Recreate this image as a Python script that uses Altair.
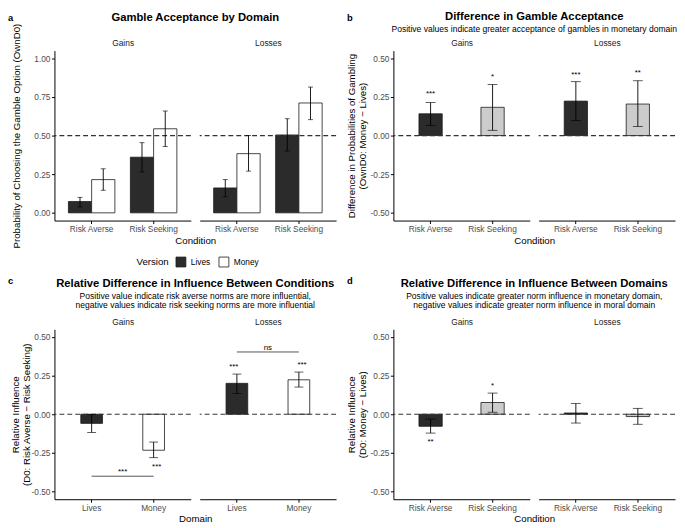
import altair as alt
import pandas as pd

FONT = "Liberation Sans"
W, H = 138, 172
GAP = 9
SPACER_W = 40
ROW_GAP = 110
DARK, LIGHT, WHITE, EDGE = "#2b2b2b", "#cccccc", "#ffffff", "#1a1a1a"
GREY_TXT = "#4d4d4d"

conditions = ["Risk Averse", "Risk Seeking"]
versions = ["Lives", "Money"]
P_TICKS = [0, 0.25, 0.5, 0.75, 1.0]
D_TICKS = [-0.5, -0.25, 0, 0.25, 0.5]

# ---- panel a: gamble acceptance by domain
a_facet = ["Gains"] * 4 + ["Losses"] * 4
a_cond = ["Risk Averse", "Risk Averse", "Risk Seeking", "Risk Seeking"] * 2
a_version = ["Lives", "Money"] * 4
a_prob = [0.073, 0.215, 0.360, 0.544, 0.161, 0.383, 0.504, 0.711]
a_lo = [0.038, 0.146, 0.264, 0.429, 0.103, 0.270, 0.400, 0.603]
a_hi = [0.100, 0.285, 0.454, 0.659, 0.215, 0.500, 0.609, 0.814]
a_ref = [0.5]

# ---- panel b: difference in gamble acceptance
b_facet = ["Gains", "Gains", "Losses", "Losses"]
b_cond = ["Risk Averse", "Risk Seeking"] * 2
b_diff = [0.141, 0.183, 0.223, 0.204]
b_lo = [0.065, 0.034, 0.097, 0.059]
b_hi = [0.214, 0.330, 0.349, 0.355]
b_sig = ["***", "*", "***", "**"]
b_sig_y = [0.279, 0.390, 0.405, 0.416]

# ---- panel c: relative difference between conditions
c_facet = ["Gains", "Gains", "Losses", "Losses"]
c_domain = ["Lives", "Money"] * 2
c_rel = [-0.059, -0.233, 0.200, 0.223]
c_lo = [-0.118, -0.281, 0.134, 0.176]
c_hi = [-0.002, -0.180, 0.260, 0.273]
c_sig = ["", "***", "***", "***"]
c_sig_y = [0.0, -0.326, 0.319, 0.330]
c_br_facet = ["Gains", "Losses"]
c_br_from = [1, 1]
c_br_to = [2, 2]
c_br_mid = [1.5, 1.5]
c_br_y = [-0.401, 0.403]
c_br_label = ["***", "ns"]
c_br_label_y = [-0.363, 0.431]

# ---- panel d: relative difference between domains
d_facet = ["Gains", "Gains", "Losses", "Losses"]
d_cond = ["Risk Averse", "Risk Seeking"] * 2
d_rel = [-0.078, 0.076, 0.008, -0.015]
d_lo = [-0.122, 0.013, -0.057, -0.065]
d_hi = [-0.031, 0.137, 0.069, 0.038]
d_sig = ["**", "*", "", ""]
d_sig_y = [-0.164, 0.193, 0.0, 0.0]
zero_ref = [0.0]

a_df = pd.DataFrame(dict(facet=a_facet, cond=a_cond, version=a_version, val=a_prob, lo=a_lo, hi=a_hi))
b_df = pd.DataFrame(dict(facet=b_facet, cond=b_cond, val=b_diff, lo=b_lo, hi=b_hi, sig=b_sig, sig_y=b_sig_y))
c_df = pd.DataFrame(dict(facet=c_facet, cond=c_domain, val=c_rel, lo=c_lo, hi=c_hi, sig=c_sig, sig_y=c_sig_y))
c_br = pd.DataFrame(dict(facet=c_br_facet, x1=c_br_from, x2=c_br_to, xm=c_br_mid, y=c_br_y,
                         lab=c_br_label, lab_y=c_br_label_y))
d_df = pd.DataFrame(dict(facet=d_facet, cond=d_cond, val=d_rel, lo=d_lo, hi=d_hi, sig=d_sig, sig_y=d_sig_y))

LABEL_EXPR = "replace(format(datum.value, '.2f'), '\u2212', '-')"


def xs(domain, pi, po):
    return alt.Scale(domain=domain, paddingInner=pi, paddingOuter=po)


def ys(dom):
    return alt.Scale(domain=dom, nice=False, zero=False)


def bottom_axis(title):
    if title:
        return alt.Axis(labelAngle=0, title=title, titleX=W + GAP / 2, titleY=20,
                        titleBaseline="middle", titleAlign="center")
    return alt.Axis(labelAngle=0, title=None)


def top_axis(label):
    return alt.Axis(orient="top", title=label, labels=False, ticks=False, domain=False,
                    titlePadding=3, titleFontSize=8.5, titleColor="#1a1a1a")


def left_axis(ticks, title, tx):
    return alt.Axis(values=ticks, labelExpr=LABEL_EXPR, title=title, titleX=tx, titleY=H / 2,
                    titleAngle=270, titleAlign="center", titleBaseline="middle", titleLineHeight=11)


def subplot(df, facet, xdom, pi, po, ydom, yticks, refv, fill_dom, fill_rng, left,
            xtitle=None, ytitle=None, ytx=-39.5, offset_field=None, cap=8, legend=None,
            title=None, stars=False, brackets=None):
    d = df[df.facet == facet]
    base = alt.Chart(d)
    ysc = ys(ydom)

    def X(axis):
        return alt.X("cond:N", scale=xs(xdom, pi, po), axis=axis)

    extra = {}
    if offset_field:
        extra["xOffset"] = alt.XOffset(f"{offset_field}:N", scale=alt.Scale(domain=fill_dom))
    fill_field = offset_field or "cond"

    bars = base.mark_bar(stroke=EDGE, strokeWidth=0.8).encode(
        x=X(bottom_axis(xtitle if left else None)),
        y=alt.Y("val:Q", scale=ysc, axis=left_axis(yticks, ytitle, ytx) if left else None),
        fill=alt.Fill(f"{fill_field}:N", scale=alt.Scale(domain=fill_dom, range=fill_rng), legend=legend),
        **extra,
    )
    ref = alt.Chart(pd.DataFrame({"r": refv})).mark_rule(
        color="#333333", strokeDash=[5, 3], strokeWidth=1.2
    ).encode(y=alt.Y("r:Q", scale=ysc, axis=None))
    err = base.mark_rule(color="black", strokeWidth=0.9).encode(
        x=X(None), y=alt.Y("lo:Q", scale=ysc, axis=None), y2="hi:Q", **extra)
    cap_lo = base.mark_tick(color="black", size=cap, thickness=0.9).encode(
        x=X(None), y=alt.Y("lo:Q", scale=ysc, axis=None), **extra)
    cap_hi = base.mark_tick(color="black", size=cap, thickness=0.9).encode(
        x=X(top_axis(facet)), y=alt.Y("hi:Q", scale=ysc, axis=None), **extra)
    layers = [bars, ref, err, cap_lo, cap_hi]
    if stars:
        layers.append(
            base.transform_filter("datum.sig != ''").mark_text(
                fontSize=8, baseline="middle", dy=2, font=FONT, color="black"
            ).encode(x=X(None), y=alt.Y("sig_y:Q", scale=ysc, axis=None), text="sig:N")
        )
    if brackets is not None:
        bd = brackets[brackets.facet == facet]
        q = alt.Scale(domain=[0.4, 2.6], nice=False, zero=False)
        layers.append(
            alt.Chart(bd).mark_rule(color="#555555", strokeWidth=1).encode(
                x=alt.X("x1:Q", scale=q, axis=None), x2="x2:Q",
                y=alt.Y("y:Q", scale=ysc, axis=None))
        )
        for cond, dy in (("datum.lab == 'ns'", 0), ("datum.lab != 'ns'", 2)):
            layers.append(
                alt.Chart(bd).transform_filter(cond).mark_text(
                    fontSize=8, baseline="middle", dy=dy, font=FONT, color="black"
                ).encode(x=alt.X("xm:Q", scale=q, axis=None),
                         y=alt.Y("lab_y:Q", scale=ysc, axis=None), text="lab:N")
            )
    ch = alt.layer(*layers).properties(width=W, height=H)
    if brackets is not None:
        ch = ch.resolve_scale(x="independent").resolve_axis(y="independent")
    else:
        ch = ch.resolve_axis(x="independent", y="independent")
    if title is not None:
        ch = ch.properties(title=title)
    return ch


def main_title(text, subtitle=None, offset=5):
    kw = dict(anchor="middle", frame="group", dx=W / 2 + GAP / 2, offset=offset,
              fontSize=11.4, fontWeight="bold", font=FONT, color="black")
    if subtitle is not None:
        kw.update(subtitle=subtitle, subtitleFontSize=8.65, subtitleFont=FONT, subtitleColor="black",
                  subtitlePadding=2.5, subtitleLineHeight=9.5)
    return alt.TitleParams(text, **kw)


def tag(letter, offset):
    return alt.TitleParams(letter, anchor="start", frame="group", dx=-(W + GAP + 47), offset=offset,
                           fontSize=9.5, fontWeight="bold", font=FONT, color="black")


legend_a = alt.Legend(orient="none", legendX=83, legendY=208, direction="horizontal", title="Version",
                      titleOrient="left", titleFontSize=9.8, titleFontWeight="normal", titleFont=FONT,
                      titleColor="black", labelFontSize=8.4, labelFont=FONT, labelColor="black",
                      symbolType="square", symbolSize=100, symbolStrokeColor=EDGE, symbolStrokeWidth=0.8,
                      labelOffset=4.5, columnPadding=5.5, titlePadding=6.5)

A_PAD = (0.25, 0.225)
S_PAD = (0.625, 0.4125)
C_PAD = (0.65, 0.425)

aG = subplot(a_df, "Gains", conditions, *A_PAD, [-0.05, 1.05], P_TICKS, a_ref, versions, [DARK, WHITE], True,
             xtitle="Condition", ytitle="Probability of Choosing the Gamble Option (OwnD0)", ytx=-38.5,
             offset_field="version", cap=5, legend=legend_a,
             title=main_title("Gamble Acceptance by Domain", offset=0))
aL = subplot(a_df, "Losses", conditions, *A_PAD, [-0.05, 1.05], P_TICKS, a_ref, versions, [DARK, WHITE], False,
             offset_field="version", cap=5, title=tag("a", 16.5))
bG = subplot(b_df, "Gains", conditions, *S_PAD, [-0.55, 0.55], D_TICKS, zero_ref, conditions, [DARK, LIGHT], True,
             xtitle="Condition", ytitle=["Difference in Probabilities of Gambling", "(OwnD0: Money \u2212 Lives)"],
             ytx=-42, cap=10, stars=True,
             title=main_title("Difference in Gamble Acceptance",
                              "Positive values indicate greater acceptance of gambles in monetary domain", 5))
bL = subplot(b_df, "Losses", conditions, *S_PAD, [-0.55, 0.55], D_TICKS, zero_ref, conditions, [DARK, LIGHT], False,
             cap=10, stars=True, title=tag("b", 16.5))
cG = subplot(c_df, "Gains", versions, *C_PAD, [-0.55, 0.55], D_TICKS, zero_ref, versions, [DARK, WHITE], True,
             xtitle="Domain", ytitle=["Relative Influence", "(D0: Risk Averse \u2212 Risk Seeking)"], ytx=-39.5,
             cap=9, stars=True, brackets=c_br,
             title=main_title("Relative Difference in Influence Between Conditions",
                              ["Positive value indicate risk averse norms are more influential,",
                               "negative values indicate risk seeking norms are more influential"], 7.5))
cL = subplot(c_df, "Losses", versions, *C_PAD, [-0.55, 0.55], D_TICKS, zero_ref, versions, [DARK, WHITE], False,
             cap=9, stars=True, brackets=c_br, title=tag("c", 32.5))
dG = subplot(d_df, "Gains", conditions, *S_PAD, [-0.55, 0.55], D_TICKS, zero_ref, conditions, [DARK, LIGHT], True,
             xtitle="Condition", ytitle=["Relative Influence", "(D0: Money \u2212 Lives)"],
             ytx=-42, cap=10, stars=True,
             title=main_title("Relative Difference in Influence Between Domains",
                              ["Positive values indicate greater norm influence in monetary domain,",
                               "negative values indicate greater norm influence in moral domain"], 7.5))
dL = subplot(d_df, "Losses", conditions, *S_PAD, [-0.55, 0.55], D_TICKS, zero_ref, conditions, [DARK, LIGHT], False,
             cap=10, stars=True, title=tag("d", 32.5))


def spacer():
    return alt.Chart(pd.DataFrame({"s": [0]})).mark_point(opacity=0).encode(
        x=alt.value(0), y=alt.value(0)).properties(width=SPACER_W, height=H)


chart = alt.concat(
    aG, aL, spacer(), bG, bL,
    cG, cL, spacer(), dG, dL,
    columns=5, spacing={"row": ROW_GAP, "column": GAP}, bounds="flush",
).resolve_scale(
    fill="independent", x="independent", y="independent"
).properties(padding=0).configure(
    background="white", font=FONT
).configure_view(
    strokeWidth=0
).configure_axis(
    labelFont=FONT, titleFont=FONT, labelFontSize=8.4, labelColor=GREY_TXT, labelPadding=1.5,
    tickSize=3, tickColor="black", tickWidth=1, domainColor="black", domainWidth=1, grid=False,
    titleFontSize=9.8, titleFontWeight="normal", titleColor="black", labelOverlap=False,
)

chart.save("out.html", embed_options={"renderer": "svg", "actions": False})
